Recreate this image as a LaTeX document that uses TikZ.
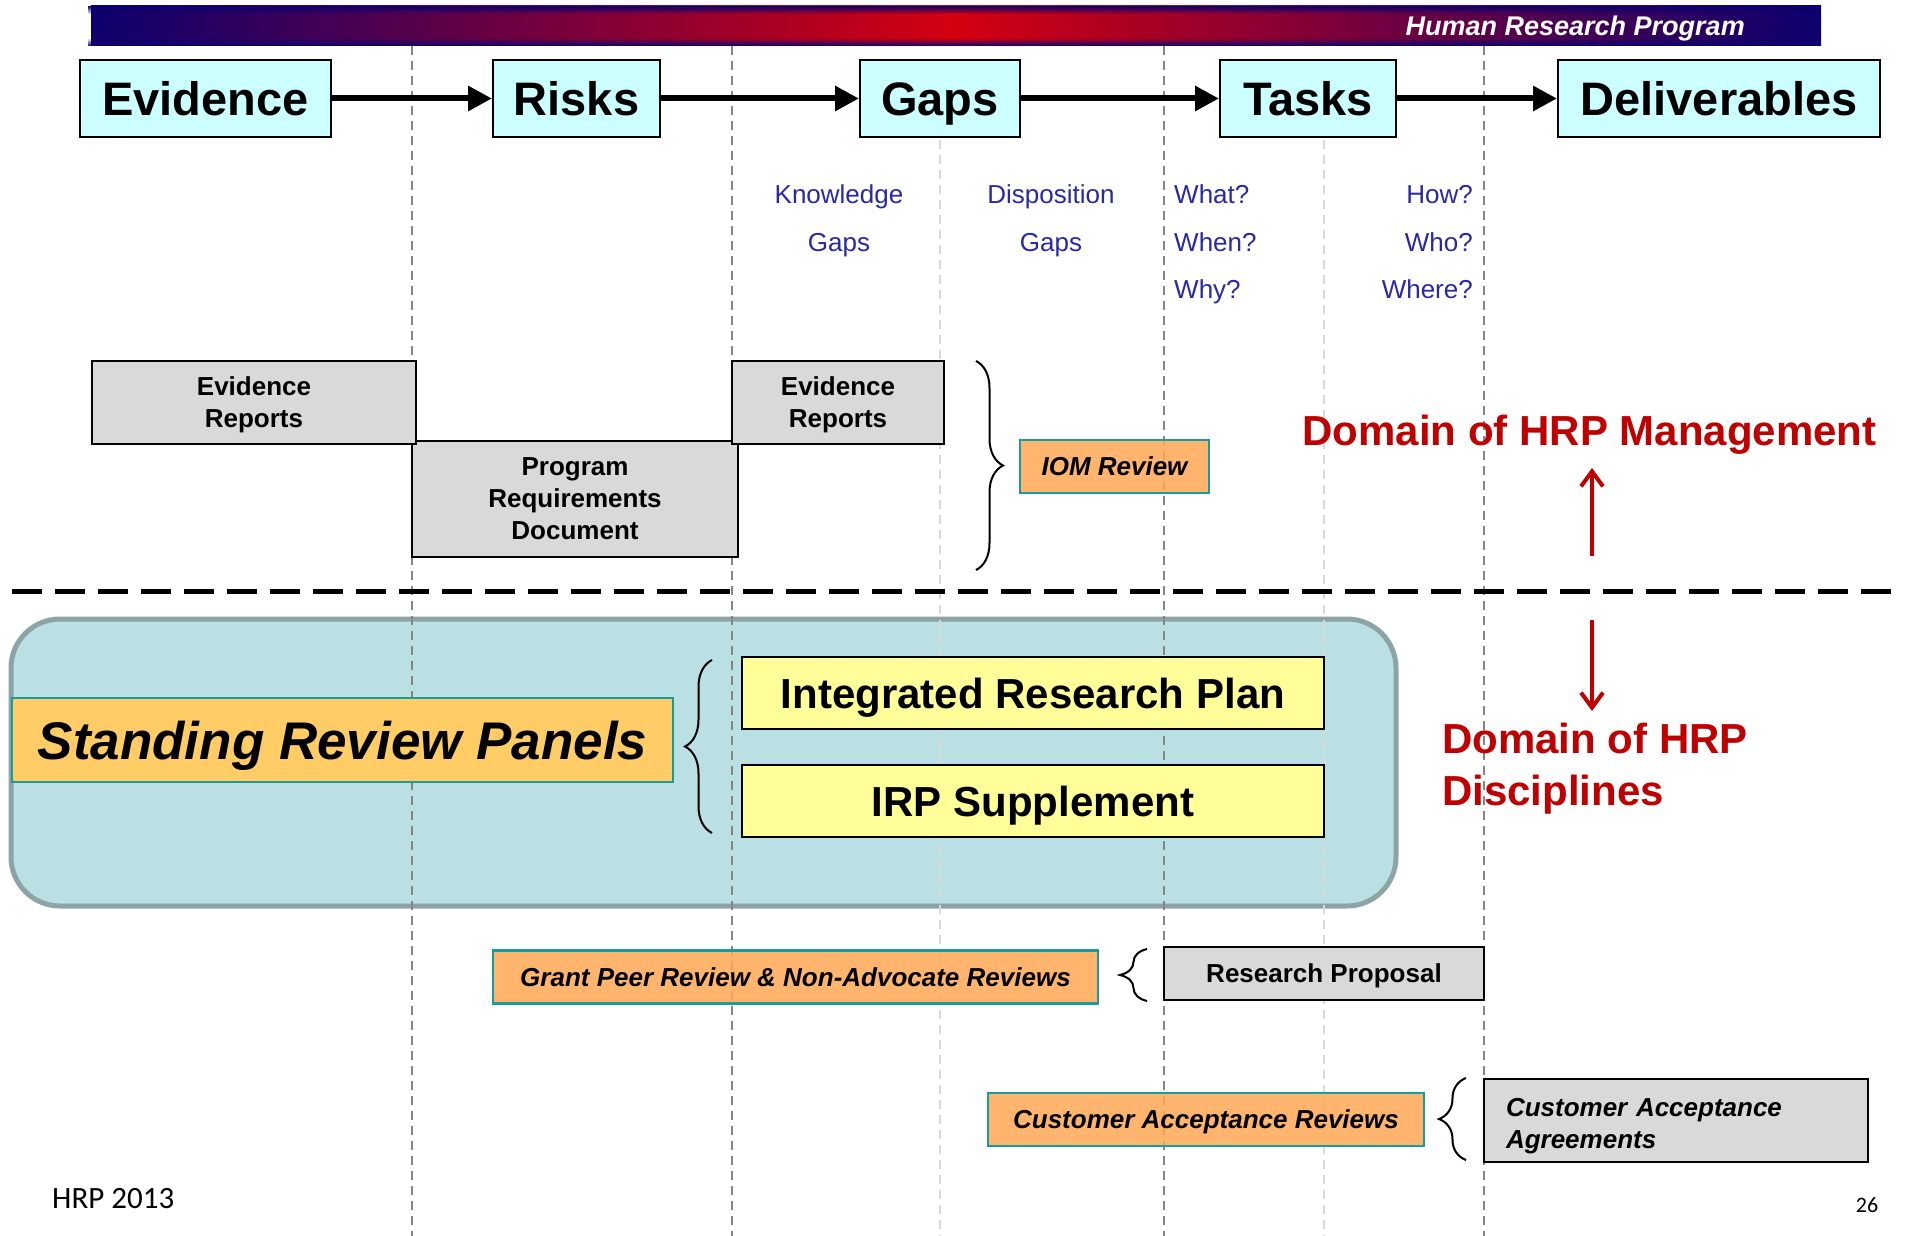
\documentclass[tikz,border=0pt]{standalone}
\usepackage{fontspec}
\setmainfont{Liberation Sans}
\newfontfamily\calibri{Carlito}
\usetikzlibrary{arrows.meta,decorations.pathreplacing,shapes,fadings}
\definecolor{hrpnavy}{RGB}{12,0,110}
\definecolor{hrpred}{RGB}{212,0,16}
\definecolor{stagecyan}{RGB}{204,255,255}
\definecolor{askblue}{RGB}{40,40,168}
\definecolor{docgray}{RGB}{217,217,217}
\definecolor{revorange}{RGB}{255,168,84}
\definecolor{panelorange}{RGB}{255,204,102}
\definecolor{revteal}{RGB}{26,156,156}
\definecolor{irpyellow}{RGB}{255,255,153}
\definecolor{domainred}{RGB}{192,0,0}
\definecolor{poolblue}{RGB}{186,224,227}
\definecolor{poolrim}{RGB}{140,164,166}

\begin{document}
\begin{tikzpicture}[%
  x=1pt,y=-1pt,
  stage/.style={rectangle,draw,line width=2pt,fill=stagecyan,inner sep=0pt,
    minimum height=77pt,text height=34pt,text depth=0pt,
    font=\fontsize{47}{50}\selectfont\bfseries},
  ask/.style={text=askblue,inner sep=0pt,text height=19.5pt,text depth=5.5pt,
    font=\fontsize{26}{30}\selectfont},
  doc/.style={rectangle,draw,line width=2pt,fill=docgray,inner sep=0pt,align=center,
    text depth=0pt,font=\fontsize{26}{32}\selectfont\bfseries},
  review/.style={rectangle,draw=revteal,line width=2.5pt,fill=revorange,fill opacity=0.85,
    text opacity=1,inner sep=0pt,minimum height=53pt,text height=18.7pt,text depth=0pt,
    font=\fontsize{26}{30}\selectfont\bfseries\itshape},
  plan/.style={rectangle,draw,line width=2.5pt,fill=irpyellow,inner sep=0pt,
    minimum width=582pt,minimum height=72pt,text height=30pt,text depth=0pt,
    font=\fontsize{42}{46}\selectfont\bfseries},
  realm/.style={text=domainred,inner sep=0pt,font=\fontsize{42}{52}\selectfont\bfseries},
  flow/.style={line width=6pt,-{Triangle[length=24pt,width=24pt]}},
  push/.style={domainred,line width=4pt,-{Straight Barb[length=15pt,width=22pt]}},
  divider/.style={draw=black!48,line width=1.5pt,dash pattern=on 9pt off 6pt},
  faint/.style={draw=black!15,line width=1.5pt,dash pattern=on 9pt off 6pt},
  bracket/.style={line width=2pt,decorate,decoration={brace,amplitude=27pt}}]
    \useasboundingbox (0,0) rectangle (1907,1236);
    % Banner
    \shade[left color=hrpnavy,right color=hrpnavy,middle color=hrpred]
      (91,6) rectangle (1821,46);
    \fill[hrpnavy,path fading=south] (91,6) rectangle (1821,14);
    \fill[hrpnavy,path fading=north] (91,38) rectangle (1821,46);
    \node[anchor=east,text=white,inner sep=0pt,
      font=\fontsize{27}{30}\selectfont\bfseries\itshape] (hrp) at (1745,29)
      {Human Research Program};
    % Standing panels pool
    \draw[line width=5pt,draw=poolrim,fill=poolblue,rounded corners=49pt]
      (11,619) rectangle (1396,906);
    % Column dividers
    \foreach \cx in {412,732,1164,1484}
      \draw[divider] (\cx,46) -- (\cx,1236);
    \foreach \cx in {940,1324}
      \draw[faint] (\cx,140) -- (\cx,1236);
    % Stages
    \node[stage,minimum width=251pt] (evid) at (205.5,98.5) {Evidence};
    \node[stage,minimum width=167pt] (risk) at (576.5,98.5) {Risks};
    \node[stage,minimum width=160pt] (gaps) at (940,98.5) {Gaps};
    \node[stage,minimum width=176pt] (task) at (1308,98.5) {Tasks};
    \node[stage,minimum width=322pt] (deliv) at (1719,98.5) {Deliverables};
    \draw[flow] (evid.east) -- (risk.west);
    \draw[flow] (risk.east) -- (gaps.west);
    \draw[flow] (gaps.east) -- (task.west);
    \draw[flow] (task.east) -- (deliv.west);
    % Questions
    \node[ask] (know) at (839,197) {Knowledge};
    \node[ask] (kgap) at (839,244) {Gaps};
    \node[ask] (disp) at (1051,197) {Disposition};
    \node[ask] (dgap) at (1051,244) {Gaps};
    \node[ask,anchor=west] (what) at (1174,197) {What?};
    \node[ask,anchor=west] (when) at (1174,244) {When?};
    \node[ask,anchor=west] (why) at (1174,291) {Why?};
    \node[ask,anchor=east] (how) at (1473,197) {How?};
    \node[ask,anchor=east] (who) at (1473,244) {Who?};
    \node[ask,anchor=east] (where) at (1473,291) {Where?};
    % Management documents
    \node[doc,minimum width=326pt,minimum height=116pt] (prd) at (575,499)
      {Program\\Requirements\\Document};
    \node[doc,minimum width=324pt,minimum height=83pt] (rep1) at (254,402.5)
      {Evidence\\Reports};
    \node[doc,minimum width=212pt,minimum height=83pt] (rep2) at (838,402.5)
      {Evidence\\Reports};
    \draw[bracket] (976,361) -- (976,570);
    \node[review,minimum width=189pt] (iom) at (1114.5,466.5) {IOM Review};
    % Domains
    \node[realm] (mgmt) at (1589.5,435) {Domain of HRP Management};
    \coordinate (upfoot) at (1592,556);
    \coordinate (uptip) at (1592,468);
    \draw[push] (upfoot) -- (uptip);
    \draw[line width=5pt,dash pattern=on 30pt off 13pt] (12,591) -- (1900,591);
    \coordinate (downfoot) at (1592,620);
    \coordinate (downtip) at (1592,711);
    \draw[push] (downfoot) -- (downtip);
    \node[realm,anchor=west,align=left] (disc) at (1442,769)
      {Domain of HRP\\Disciplines};
    % Standing Review Panels
    \node[rectangle,draw=revteal,line width=2.5pt,fill=panelorange,inner sep=0pt,
      minimum width=661pt,minimum height=84pt,text height=38pt,text depth=0pt,
      font=\fontsize{53}{56}\selectfont\bfseries\itshape] (srp) at (342.5,740)
      {Standing Review Panels};
    \draw[bracket] (712,833) -- (712,660);
    \node[plan] (irp) at (1033,693) {Integrated Research Plan};
    \node[plan] (supp) at (1033,801) {IRP Supplement};
    % Research proposals
    \node[review,minimum width=605pt] (grant) at (795.5,977)
      {Grant Peer Review \& Non-Advocate Reviews};
    \draw[bracket] (1147,1001) -- (1147,949);
    \node[doc,minimum width=320pt,minimum height=53pt] (prop) at (1324,973.5)
      {Research Proposal};
    % Customer acceptance
    \node[doc,minimum width=384pt,minimum height=83pt,align=left,text depth=27pt,
      text width=340pt,font=\fontsize{26}{32}\selectfont\bfseries\itshape] (caa)
      at (1676,1120.5) {Customer Acceptance\\Agreements};
    \draw[bracket] (1466,1160) -- (1466,1078);
    \node[review,minimum width=436pt] (car) at (1206,1119.5)
      {Customer Acceptance Reviews};
    % Footer
    \node[anchor=west,inner sep=0pt,font=\calibri\fontsize{31}{34}\selectfont]
      (year) at (52,1199) {HRP 2013};
    \node[inner sep=0pt,font=\calibri\fontsize{22}{26}\selectfont]
      (page) at (1867,1205) {26};
\end{tikzpicture}
\end{document}
